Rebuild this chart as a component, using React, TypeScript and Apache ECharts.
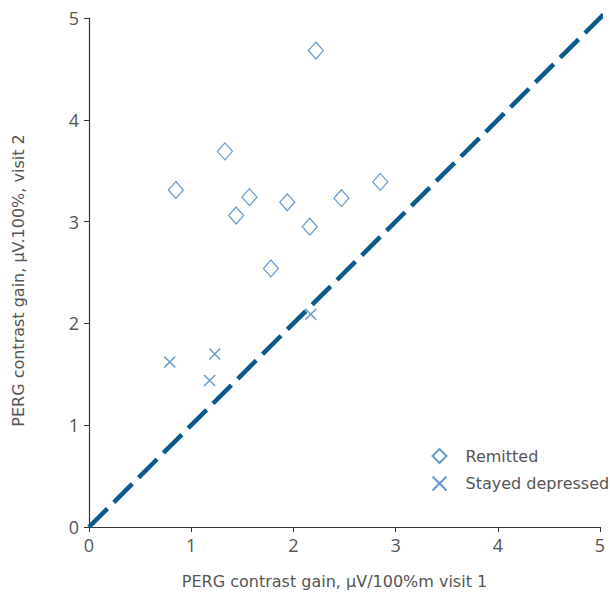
import React, { useEffect, useRef } from "react";
import * as echarts from "echarts";

const remitted: [number, number][] = [
  [0.85, 3.31],
  [1.33, 3.69],
  [1.44, 3.06],
  [1.57, 3.24],
  [1.94, 3.19],
  [1.78, 2.54],
  [2.16, 2.95],
  [2.22, 4.68],
  [2.47, 3.23],
  [2.85, 3.39],
];

const stayedDepressed: [number, number][] = [
  [0.79, 1.62],
  [1.23, 1.7],
  [1.18, 1.44],
  [2.17, 2.09],
];

const identityLine: [number, number][] = [
  [0, 0],
  [5.13, 5.13],
];

const axisTicks = [0, 1, 2, 3, 4, 5];

const NAME_FONT = "DejaVu Sans";
const TICK_FONT = "Open Sans";
const MARK = "#3f7fbb";
const LINE = "#0b5a8c";

export default function App() {
  const ref = useRef<HTMLDivElement>(null);
  useEffect(() => {
    if (!ref.current) return;
    const chart = echarts.init(ref.current, undefined, { renderer: "svg" });
    chart.setOption({
      animation: false,
      backgroundColor: "#fff",
      textStyle: { fontFamily: NAME_FONT },
      grid: { left: 89, right: 10, top: 18, bottom: 72 },
      legend: {
        orient: "vertical",
        left: 430,
        top: 448,
        padding: 0,
        itemWidth: 14,
        itemHeight: 14,
        itemGap: 10,
        data: ["Remitted", "Stayed depressed"],
        textStyle: { fontFamily: NAME_FONT, fontSize: 16, color: "#555", padding: [0, 0, 0, 14] },
      },
      xAxis: {
        type: "value",
        min: axisTicks[0],
        max: axisTicks[axisTicks.length - 1],
        interval: 1,
        name: "PERG contrast gain, μV/100%m visit 1",
        nameLocation: "middle",
        nameGap: 46,
        nameTextStyle: { fontFamily: NAME_FONT, fontSize: 16, color: "#555", padding: [0, 20, 0, 0] },
        axisLine: { show: true, lineStyle: { color: "#333", width: 1.2 } },
        axisTick: { show: true, length: 5, lineStyle: { color: "#333" } },
        axisLabel: { fontFamily: TICK_FONT, fontSize: 18, color: "#555", margin: 9 },
        splitLine: { show: false },
      },
      yAxis: {
        type: "value",
        min: axisTicks[0],
        max: axisTicks[axisTicks.length - 1],
        interval: 1,
        name: "PERG contrast gain, μV.100%, visit 2",
        nameLocation: "middle",
        nameGap: 63,
        nameTextStyle: { fontFamily: NAME_FONT, fontSize: 16, color: "#555", padding: [0, 16, 0, 0] },
        axisLine: { show: true, lineStyle: { color: "#333", width: 1.2 } },
        axisTick: { show: true, length: 5, lineStyle: { color: "#333" } },
        axisLabel: { fontFamily: TICK_FONT, fontSize: 18, color: "#555", margin: 10 },
        splitLine: { show: false },
      },
      series: [
        {
          name: "identity",
          type: "line",
          data: identityLine,
          showSymbol: false,
          symbol: "none",
          clip: false,
          lineStyle: { color: LINE, width: 4.5, type: [26, 9] },
          z: 1,
          silent: true,
        },
        {
          name: "Remitted",
          type: "scatter",
          data: remitted,
          symbol: "diamond",
          symbolSize: [15, 17],
          itemStyle: { color: "#fff", borderColor: MARK, borderWidth: 1.2 },
          z: 3,
        },
        {
          name: "Stayed depressed",
          type: "scatter",
          data: stayedDepressed,
          symbol: "path://M0 0L10 10M10 0L0 10",
          symbolSize: 11,
          itemStyle: { color: "none", borderColor: MARK, borderWidth: 1.5 },
          z: 3,
        },
      ],
    });
    return () => chart.dispose();
  }, []);
  return <div ref={ref} style={{ width: 610, height: 599, position: "absolute", left: 0, top: 0 }} />;
}
